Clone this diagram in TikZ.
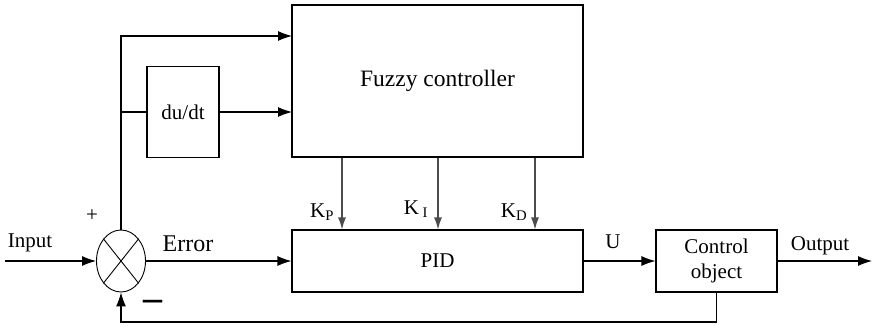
\documentclass[tikz,border=0pt]{standalone}
\usepackage{fontspec}
\setmainfont{Liberation Serif}
\usetikzlibrary{arrows.meta,shapes.geometric}
\begin{document}
\begin{tikzpicture}[x=1pt, y=-1pt, line width=1.1pt,
    block/.style={draw, rectangle, inner sep=0pt, font=\fontsize{21}{25}\selectfont},
    sig/.style={-{Latex[length=14pt,width=10pt]}},
    gain/.style={-{Latex[length=12pt,width=8pt]}, black!70},
    lbl/.style={inner sep=0pt, font=\fontsize{21}{25}\selectfont}]
    \useasboundingbox (0,0) rectangle (874,325);
    % Blocks
    \node [block, minimum width=291pt, minimum height=152pt, font=\fontsize{23.5}{28}\selectfont] (fuzzy) at (437.5,81) {\raisebox{4pt}{Fuzzy controller}};
    \node [block, minimum width=72pt, minimum height=91pt] (deriv) at (183,112) {du/dt};
    \node [block, minimum width=291pt, minimum height=62pt] (pid) at (437.5,261) {PID};
    \node [block, minimum width=121pt, minimum height=62pt, align=center, font=\fontsize{21}{25}\selectfont] (plant) at (716.5,261) {Control\\object};
    \node [draw, ellipse, minimum width=49pt, minimum height=62pt, inner sep=0pt, line width=0.9pt] (sum) at (121,261) {};
    \draw [line width=0.9pt] (sum.north west) -- (sum.south east);
    \draw [line width=0.9pt] (sum.north east) -- (sum.south west);
    % Coordinate
    \coordinate (in) at (5,261);
    \coordinate (out) at (872,261);
    \coordinate (ftop) at (292,36);
    \coordinate (fmid) at (292,112);
    \coordinate (tap) at (121,112);
    \coordinate (fb) at (121,322);
    % Linee
    \draw [sig] (in) -- (sum.west); % input
    \draw [sig] (sum.north) |- (ftop); % error to fuzzy
    \draw (tap) -- (deriv.west);
    \draw [sig] (deriv.east) -- (fmid);
    \draw [sig] (sum.east) -- (pid.west); % error to PID
    \foreach \x in {342,438,535}
        \draw [gain] (fuzzy.south -| \x,0) -- (pid.north -| \x,0);
    \draw [sig] (pid.east) -- (plant.west);
    \draw [sig] (plant.east) -- (out);
    \draw [sig] (plant.south) |- (fb) -- (sum.south); % feedback
    % Writing space
    \node [lbl] (inlbl) at (30,243) {Input};
    \node [lbl, font=\fontsize{21}{21}\selectfont] (plus) at (92,216) {+};
    \node [lbl, font=\fontsize{38}{38}\bfseries] (minus) at (153,305) {–};
    \node [lbl, font=\fontsize{24}{28}\selectfont] (errlbl) at (188,244) {Error};
    \node [lbl] (kp) at (322,212) {K\textsubscript{P}};
    \node [lbl] (ki) at (416,209) {K\,\textsubscript{I}};
    \node [lbl] (kd) at (514,212) {K\textsubscript{D}};
    \node [lbl] (ulbl) at (613,242) {U};
    \node [lbl] (outlbl) at (820,246) {Output};
\end{tikzpicture}
\end{document}
